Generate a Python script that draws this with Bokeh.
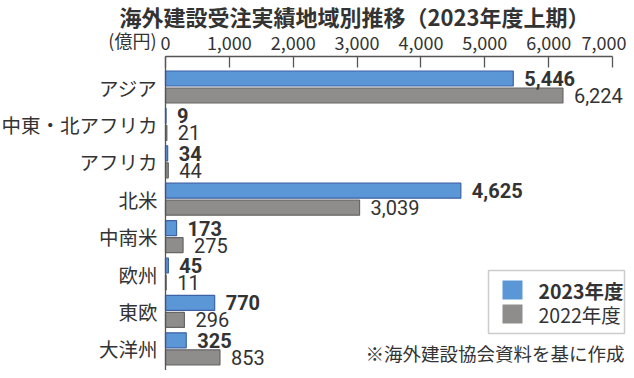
from bokeh.plotting import figure
from bokeh.models import (ColumnDataSource, Range1d, FixedTicker, NumeralTickFormatter,
                          Label, BoxAnnotation)
from bokeh.core.properties import value
from bokeh.embed import file_html
from bokeh.resources import INLINE

# ---- data ----
regions = ["アジア", "中東・北アフリカ", "アフリカ", "北米", "中南米", "欧州", "東欧", "大洋州"]
fy2023 = [5446, 9, 34, 4625, 173, 45, 770, 325]
fy2022 = [6224, 21, 44, 3039, 275, 11, 296, 853]
x_ticks = [0, 1000, 2000, 3000, 4000, 5000, 6000, 7000]
title_text = "海外建設受注実績地域別推移（2023年度上期）"
unit_text = "(億円)"
note_text = "※海外建設協会資料を基に作成"
legend_labels = ["2023年度", "2022年度"]

JP = "Noto Sans CJK JP"
NUM = "Roboto"
BLUE, BLUE_LINE = "#5b96d6", "#3d62a8"
GRAY, GRAY_LINE = "#8e8d8b", "#676664"
TXT = "#333333"

W, H = 626, 370
X0 = 165                 # pixel x of value 0
PX_X = 447 / 7000        # pixels per unit of value
ROW0 = 86.5              # pixel y of first row centre
ROW = 37.4               # pixels per row
AXIS_Y = 56              # pixel y of the top axis line

def dx(px):  # pixel x -> data x
    return (px - X0) / PX_X

def dy(px):  # pixel y -> data y (row units)
    return (px - ROW0) / ROW

p = figure(width=W, height=H, output_backend="svg", toolbar_location=None,
           x_range=Range1d(dx(0), dx(W)), y_range=Range1d(dy(H), dy(0)),
           x_axis_location="above", min_border=0, min_border_left=0,
           min_border_right=0, min_border_top=0, min_border_bottom=0)
p.outline_line_color = None
p.grid.visible = False
p.background_fill_color = "white"
p.border_fill_color = "white"

idx = list(range(len(regions)))
off = 8.5 / ROW
bh = 15 / ROW
src = ColumnDataSource(dict(
    y23=[i - off for i in idx], y22=[i + off for i in idx],
    v23=fy2023, v22=fy2022,
    t23=[f"{v:,}" for v in fy2023], t22=[f"{v:,}" for v in fy2022]))

p.hbar(y="y23", right="v23", left=0, height=bh, source=src,
       fill_color=BLUE, line_color=BLUE_LINE, line_width=1.2)
p.hbar(y="y22", right="v22", left=0, height=bh, source=src,
       fill_color=GRAY, line_color=GRAY_LINE, line_width=1.2)

p.text(x="v23", y="y23", text="t23", source=src, x_offset=11,
       text_font=value(NUM), text_font_size="20px", text_font_style="bold",
       text_color=TXT, text_baseline="middle", text_align="left")
p.text(x="v22", y="y22", text="t22", source=src, x_offset=11,
       text_font=value(NUM), text_font_size="20px",
       text_color=TXT, text_baseline="middle", text_align="left")

# top axis (drawn at a fixed location inside the frame)
xa = p.xaxis[0]
xa.fixed_location = dy(AXIS_Y)
xa.bounds = (0, 7000)
xa.ticker = FixedTicker(ticks=x_ticks)
xa.formatter = NumeralTickFormatter(format="0,0")
xa.major_tick_in = 11
xa.major_tick_out = 0
xa.minor_tick_line_color = None
xa.axis_line_color = "#555555"
xa.major_tick_line_color = "#555555"
xa.axis_line_width = 1.3
xa.major_tick_line_width = 1.3
xa.major_label_text_font = JP
xa.major_label_text_font_size = "18px"
xa.major_label_text_color = TXT
xa.major_label_standoff = 7

# left axis (category labels)
ya = p.yaxis[0]
ya.fixed_location = 0
ya.bounds = (dy(AXIS_Y), dy(H))
ya.ticker = FixedTicker(ticks=idx)
ya.major_label_overrides = {i: r for i, r in zip(idx, regions)}
ya.major_tick_in = 0
ya.major_tick_out = 0
ya.minor_tick_line_color = None
ya.axis_line_color = "#555555"
ya.axis_line_width = 1.3
ya.major_label_text_font = JP
ya.major_label_text_font_size = "19.5px"
ya.major_label_text_color = TXT
ya.major_label_standoff = 8

# title, unit, note
p.add_layout(Label(x=dx(119), y=dy(15), text=title_text, text_font=JP,
                   text_font_size="22px", text_font_style="bold", text_color=TXT,
                   text_baseline="middle", text_align="left"))
p.add_layout(Label(x=dx(156), y=dy(39), text=unit_text, text_font=JP,
                   text_font_size="18px", text_color=TXT,
                   text_baseline="middle", text_align="right"))
p.add_layout(Label(x=dx(624), y=dy(352), text=note_text, text_font=JP,
                   text_font_size="18.5px", text_color=TXT,
                   text_baseline="middle", text_align="right"))

# legend
p.add_layout(BoxAnnotation(left=dx(488), right=dx(624), top=dy(270), bottom=dy(333),
                           fill_color="white", fill_alpha=1, line_color="#555555",
                           line_width=1.5))
p.add_layout(BoxAnnotation(left=dx(502), right=dx(522), top=dy(280), bottom=dy(299),
                           fill_color=BLUE, fill_alpha=1, line_color=None))
p.add_layout(BoxAnnotation(left=dx(502), right=dx(522), top=dy(304), bottom=dy(323),
                           fill_color=GRAY, fill_alpha=1, line_color=None))
p.add_layout(Label(x=dx(538), y=dy(290), text=legend_labels[0], text_font=JP,
                   text_font_size="19.5px", text_font_style="bold", text_color=TXT,
                   text_baseline="middle", text_align="left"))
p.add_layout(Label(x=dx(538), y=dy(314), text=legend_labels[1], text_font=JP,
                   text_font_size="19.5px", text_color=TXT,
                   text_baseline="middle", text_align="left"))

open("out.html", "w").write(file_html(p, INLINE))
